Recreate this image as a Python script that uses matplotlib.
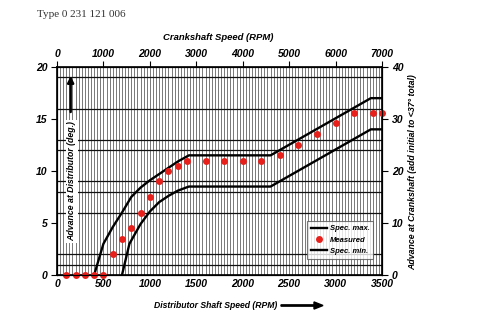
import matplotlib
matplotlib.use("Agg")
import matplotlib.pyplot as plt
import numpy as np

# distributor rpm / advance in distributor degrees
spec_max_rpm = [400, 500, 600, 700, 800, 900, 1000, 1100, 1200, 1300, 1420, 2300, 3380, 3500]
spec_max_deg = [0, 3.0, 4.6, 6.0, 7.5, 8.4, 9.1, 9.7, 10.3, 10.9, 11.5, 11.5, 17.0, 17.0]

spec_min_rpm = [700, 780, 900, 1000, 1100, 1200, 1300, 1420, 2300, 3380, 3500]
spec_min_deg = [0, 3.0, 4.9, 6.1, 7.0, 7.6, 8.1, 8.5, 8.5, 14.0, 14.0]

meas_rpm = [100, 200, 300, 400, 500, 600, 700, 800, 900, 1000, 1100, 1200, 1300, 1400,
            1600, 1800, 2000, 2200, 2400, 2600, 2800, 3000, 3200, 3400, 3500]
meas_deg = [0, 0, 0, 0, 0, 2.0, 3.5, 4.5, 6.0, 7.5, 9.0, 10.0, 10.5, 11.0,
            11.0, 11.0, 11.0, 11.0, 11.5, 12.5, 13.6, 14.6, 15.6, 15.6, 15.6]

dist_ticks = [0, 500, 1000, 1500, 2000, 2500, 3000, 3500]
crank_ticks = [0, 1000, 2000, 3000, 4000, 5000, 6000, 7000]
deg_ticks = [0, 5, 10, 15, 20]
crank_deg_ticks = [0, 10, 20, 30, 40]
hgrid = [1, 2, 6, 8, 9, 12, 13, 16, 19]

lab = dict(family="Liberation Sans", weight="bold", style="italic")

fig = plt.figure(figsize=(5, 3.25), dpi=100)
ax = fig.add_axes([0.114, 0.154, 0.65, 0.64])

# chart paper grid
for x in np.linspace(0, 3500, 106):
    ax.axvline(x, color="#444444", lw=0.5, zorder=0)
for y in hgrid:
    ax.axhline(y, color="#111111", lw=0.9, zorder=0)

ax.plot(spec_max_rpm, spec_max_deg, color="black", lw=1.7, label="Spec. max.", zorder=3)
ax.plot(meas_rpm, meas_deg, "o", color="#e8201c", ms=5, mec="none", label="Measured",
        zorder=4, clip_on=False)
ax.plot(spec_min_rpm, spec_min_deg, color="black", lw=1.7, label="Spec. min.", zorder=3)

ax.set_xlim(0, 3500)
ax.set_ylim(0, 20)
ax.set_xticks(dist_ticks)
ax.set_yticks(deg_ticks)
ax.tick_params(axis="x", length=0, pad=3)
ax.tick_params(axis="y", length=4, direction="out", pad=3)
for t in ax.get_xticklabels() + ax.get_yticklabels():
    t.set(size=7.5, **lab)
for s in ax.spines.values():
    s.set_linewidth(1.2)

ax2 = ax.twinx()
ax2.set_ylim(0, 40)
ax2.set_yticks(crank_deg_ticks)
ax2.tick_params(axis="y", length=4, direction="out", pad=3)
for t in ax2.get_yticklabels():
    t.set(size=7.5, **lab)

ax3 = ax.twiny()
ax3.set_xlim(0, 7000)
ax3.set_xticks(crank_ticks)
ax3.tick_params(axis="x", length=4, direction="out", pad=2)
for t in ax3.get_xticklabels():
    t.set(size=7.5, **lab)

leg = ax.legend(loc="lower right", bbox_to_anchor=(0.985, 0.06), frameon=True, fancybox=False,
                prop=dict(size=5.5, **lab), handlelength=2.2, handletextpad=0.3,
                labelspacing=0.5, borderpad=0.5)
leg.get_frame().set_edgecolor("#555555")
leg.get_frame().set_linewidth(0.8)
leg.set_zorder(5)

# axis titles
fig.text(0.074, 0.97, "Type 0 231 121 006", family="Liberation Serif", size=8, color="#333333", va="top")
fig.text(0.436, 0.884, "Crankshaft Speed (RPM)", ha="center", va="center", size=6.8, **lab)
fig.text(0.432, 0.06, "Distributor Shaft Speed (RPM)", ha="center", va="center", size=6.2, **lab)
fig.add_artist(matplotlib.patches.FancyArrow(0.562, 0.06, 0.066, 0, width=0.004, head_width=0.022,
                                              head_length=0.018, color="black", transform=fig.transFigure))
fig.text(0.825, 0.47, "Advance at Crankshaft (add initial to <37° total)", rotation=90,
         ha="center", va="center", size=6.3, **lab)

ax.text(0.046, 0.45, "Advance at Distributor (deg.)", rotation=90, transform=ax.transAxes,
        ha="center", va="center", size=6.3, zorder=6,
        bbox=dict(facecolor="white", edgecolor="none", pad=1), **lab)
ax.annotate("", xy=(0.042, 0.97), xytext=(0.042, 0.77), xycoords="axes fraction",
            arrowprops=dict(arrowstyle="-|>", color="black", lw=1.8, mutation_scale=9), zorder=6)

fig.savefig("out.png", dpi=100)
